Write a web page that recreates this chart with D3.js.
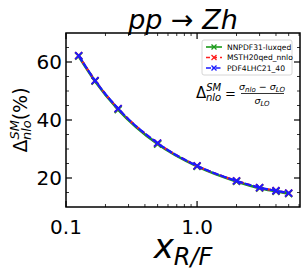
<!DOCTYPE html>
<html>
<head>
<meta charset="utf-8">
<script src="https://cdn.jsdelivr.net/npm/d3@7"></script>
<style>
  body { margin: 0; background: #fff; }
  svg { font-family: "DejaVu Sans", sans-serif; display: block; }
</style>
</head>
<body>
<svg id="chart" width="307" height="272"></svg>
<script>
// x_{R/F} scale factors and Delta_nlo (%) per PDF set
const scales = [0.125, 1 / 6, 0.25, 0.5, 1, 2, 3, 4, 5];
const nnpdf = [62.0, 53.4, 43.6, 31.7, 24.0, 18.8, 16.5, 15.4, 14.6];
const msht = [62.2, 53.6, 43.9, 32.0, 24.2, 19.0, 16.7, 15.6, 14.8];
const pdf4lhc = [62.2, 53.6, 43.9, 32.0, 24.2, 19.0, 16.7, 15.6, 14.8];
const xTicks = [0.1, 1.0];
const yTicks = [20, 40, 60];

const series = [
  { name: "NNPDF31-luxqed", values: nnpdf, color: "#1a9a1a", dash: null, lw: 2.6 },
  { name: "MSTH20qed_nnlo", values: msht, color: "#ff2020", dash: "4,3", lw: 2.2 },
  { name: "PDF4LHC21_40", values: pdf4lhc, color: "#1a1aff", dash: "7,1.6", lw: 2.2 },
];

const margin = { left: 66, right: 7, top: 33, bottom: 65 };
const width = 307, height = 272;
const svg = d3.select("#chart");

const x = d3.scaleLog().domain([0.1, 6.1]).range([margin.left, width - margin.right]);
const y = d3.scaleLinear().domain([10, 70]).range([height - margin.bottom, margin.top]);

const x0 = x.range()[0], x1 = x.range()[1];
const y0 = y.range()[0], y1 = y.range()[1];

// ticks (inward, on all four sides)
const g = svg.append("g").attr("stroke", "#000");
const minorX = [];
for (let d = 0.1; d < 10; d *= 10) {
  for (let k = 2; k <= 9; k++) if (k * d < 6.1) minorX.push(k * d);
}
const minorY = d3.range(15, 70, 5).filter((v) => v % 20 !== 0);

xTicks.forEach((t) => {
  g.append("line").attr("x1", x(t)).attr("x2", x(t)).attr("y1", y0).attr("y2", y0 - 6).attr("stroke-width", 1.2);
  g.append("line").attr("x1", x(t)).attr("x2", x(t)).attr("y1", y1).attr("y2", y1 + 6).attr("stroke-width", 1.2);
});
minorX.forEach((t) => {
  g.append("line").attr("x1", x(t)).attr("x2", x(t)).attr("y1", y0).attr("y2", y0 - 3).attr("stroke-width", 0.8);
  g.append("line").attr("x1", x(t)).attr("x2", x(t)).attr("y1", y1).attr("y2", y1 + 3).attr("stroke-width", 0.8);
});
yTicks.forEach((t) => {
  g.append("line").attr("x1", x0).attr("x2", x0 + 6).attr("y1", y(t)).attr("y2", y(t)).attr("stroke-width", 1.2);
  g.append("line").attr("x1", x1).attr("x2", x1 - 6).attr("y1", y(t)).attr("y2", y(t)).attr("stroke-width", 1.2);
});
minorY.forEach((t) => {
  g.append("line").attr("x1", x0).attr("x2", x0 + 3).attr("y1", y(t)).attr("y2", y(t)).attr("stroke-width", 0.8);
  g.append("line").attr("x1", x1).attr("x2", x1 - 3).attr("y1", y(t)).attr("y2", y(t)).attr("stroke-width", 0.8);
});

// tick labels
svg.selectAll(".xl").data(xTicks).enter().append("text")
  .attr("x", (d) => x(d)).attr("y", y0 + 27)
  .attr("text-anchor", "middle").attr("font-size", 20)
  .text((d) => d.toFixed(1));
svg.selectAll(".yl").data(yTicks).enter().append("text")
  .attr("x", x0 - 4).attr("y", (d) => y(d) + 7)
  .attr("text-anchor", "end").attr("font-size", 20)
  .text((d) => d);

// lines
const line = d3.line().x((d, i) => x(scales[i])).y((d) => y(d)).curve(d3.curveMonotoneX);
const marker = (sel, cx, cy, color, s, w) => {
  sel.append("path")
    .attr("d", `M${cx - s},${cy - s}L${cx + s},${cy + s}M${cx - s},${cy + s}L${cx + s},${cy - s}`)
    .attr("stroke", color).attr("stroke-width", w).attr("fill", "none");
};
const plot = svg.append("g");
series.forEach((s) => {
  plot.append("path").datum(s.values)
    .attr("d", line).attr("fill", "none")
    .attr("stroke", s.color).attr("stroke-width", s.lw)
    .attr("stroke-dasharray", s.dash);
  s.values.forEach((v, i) => marker(plot, x(scales[i]), y(v), s.color, 3.5, 1.8));
});

// frame
svg.append("rect").attr("x", x0).attr("y", y1).attr("width", x1 - x0).attr("height", y0 - y1)
  .attr("fill", "none").attr("stroke", "#000").attr("stroke-width", 1.5);

// legend
const lg = svg.append("g").attr("transform", "translate(202,40)");
lg.append("rect").attr("width", 90).attr("height", 35).attr("rx", 2)
  .attr("fill", "#fff").attr("stroke", "#ccc").attr("stroke-width", 0.8);
series.forEach((s, i) => {
  const yy = 7 + i * 10.5;
  lg.append("line").attr("x1", 4).attr("x2", 20).attr("y1", yy).attr("y2", yy)
    .attr("stroke", s.color).attr("stroke-width", 1.6)
    .attr("stroke-dasharray", i === 2 ? "5,1.5,1.5,1.5" : s.dash);
  marker(lg, 12, yy, s.color, 2.5, 1.3);
  lg.append("text").attr("x", 25).attr("y", yy + 2.7).attr("font-size", 7.6).text(s.name);
});

// formula annotation
const f = svg.append("g").attr("transform", "translate(196,98)");
const lhs = f.append("text").attr("x", 0).attr("y", 0).attr("font-size", 15);
lhs.append("tspan").text("Δ");
lhs.append("tspan").attr("font-size", 10).attr("font-style", "italic").attr("dy", -7).text("SM");
f.append("text").attr("x", 10).attr("y", 3).attr("font-size", 10).attr("font-style", "italic").text("nlo");
f.append("text").attr("x", 29).attr("y", 0).attr("font-size", 13).text("=");
const num = f.append("text").attr("x", 66).attr("y", -8).attr("text-anchor", "middle").attr("font-size", 9.5);
num.append("tspan").attr("font-style", "italic").text("σ");
num.append("tspan").attr("font-style", "italic").attr("font-size", 7).attr("dy", 2).text("nlo");
num.append("tspan").attr("dy", -2).text(" − ");
num.append("tspan").attr("font-style", "italic").text("σ");
num.append("tspan").attr("font-style", "italic").attr("font-size", 7).attr("dy", 2).text("LO");
f.append("line").attr("x1", 45).attr("x2", 88).attr("y1", -4.5).attr("y2", -4.5).attr("stroke", "#000").attr("stroke-width", 0.8);
const den = f.append("text").attr("x", 66).attr("y", 6).attr("text-anchor", "middle").attr("font-size", 9.5);
den.append("tspan").attr("font-style", "italic").text("σ");
den.append("tspan").attr("font-style", "italic").attr("font-size", 7).attr("dy", 2).text("LO");

// title
svg.append("text").attr("x", 183).attr("y", 29).attr("text-anchor", "middle")
  .attr("font-size", 27).attr("font-style", "italic").text("pp → Zh");

// x label
const xl = svg.append("text").attr("x", 183).attr("y", 258).attr("text-anchor", "middle").attr("font-size", 34);
xl.append("tspan").attr("font-style", "italic").text("x");
xl.append("tspan").attr("font-style", "italic").attr("font-size", 24).attr("dy", 7).text("R/F");

// y label
const yl = svg.append("text").attr("transform", "translate(27,120) rotate(-90)")
  .attr("text-anchor", "middle").attr("font-size", 19);
yl.append("tspan").text("Δ");
yl.append("tspan").attr("font-style", "italic").attr("font-size", 13).attr("dy", -8).text("SM");
yl.append("tspan").attr("font-style", "italic").attr("font-size", 13).attr("dx", -20).attr("dy", 12).text("nlo");
yl.append("tspan").attr("dy", -4).text("(%)");
</script>
</body>
</html>
